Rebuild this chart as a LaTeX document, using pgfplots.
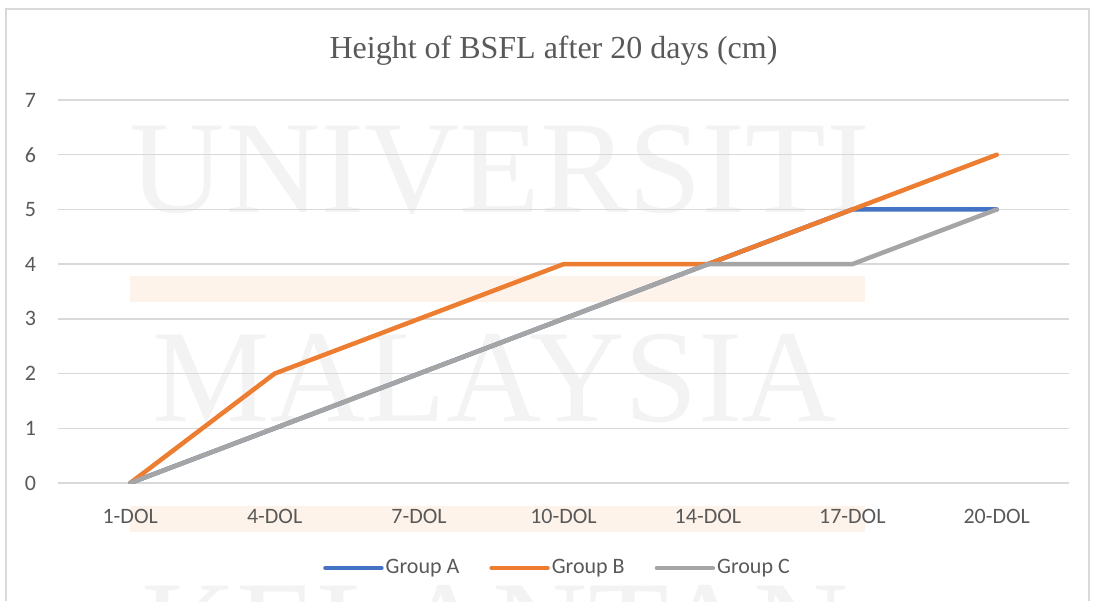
\documentclass[border=0pt]{standalone}
\usepackage{pgfplots}
\pgfplotsset{compat=1.18}
\usepackage{fontspec}
\setmainfont{Carlito}
\newfontfamily\titlefont{Liberation Serif}
\definecolor{cA}{HTML}{4472C4}
\definecolor{cB}{HTML}{ED7D31}
\definecolor{cC}{HTML}{A5A5A5}
\definecolor{gridc}{HTML}{D9D9D9}
\definecolor{txt}{HTML}{595959}
\definecolor{wm}{HTML}{F3F3F3}
\definecolor{wmo}{HTML}{FEF3EA}
\begin{document}
\begin{tikzpicture}[x=0.5pt,y=0.5pt]
\begin{scope}[shift={(-58,-118)}]
% watermark
\fill[wmo] (130,601-302) rectangle (865,601-276);
\fill[wmo] (130,601-532) rectangle (865,601-506);
\node[text=wm, font=\titlefont\fontsize{66}{66}\selectfont] at (500,601-170) {UNIVERSITI};
\node[text=wm, font=\titlefont\fontsize{66}{66}\selectfont] at (495,601-378) {MALAYSIA};
\node[text=wm, font=\titlefont\fontsize{66}{66}\selectfont, anchor=north] at (495,601-578) {KELANTAN};
% frame
\draw[gridc, line width=1pt] (6,0) -- (6,592) -- (1089,592) -- (1089,0);
\end{scope}
\begin{axis}[
  at={(0,0)}, anchor=south west,
  scale only axis, width=505.5pt, height=191.5pt,
  xmin=-0.5, xmax=6.5, ymin=0, ymax=7,
  xtick={0,...,6},
  xticklabels={1-DOL,4-DOL,7-DOL,10-DOL,14-DOL,17-DOL,20-DOL},
  ytick={0,...,7},
  axis line style={draw=none},
  tick style={draw=none},
  ymajorgrids, xmajorgrids=false, grid style={gridc, line width=0.75pt},
  tick label style={font=\fontsize{11}{13}\selectfont, text=txt},
  /pgf/number format/assume math mode=true,
  yticklabel style={xshift=-7.5pt},
  xticklabel style={yshift=-9.5pt},
  title={\titlefont\fontsize{16}{19}\selectfont\color{txt}Height of BSFL after 20 days (cm)},
  title style={at={(0.5,1)}, anchor=center, yshift=18.5pt, xshift=-5pt},
  legend style={at={(0.5,0)}, anchor=center, yshift=-42.5pt, xshift=-3pt, draw=none, fill=none,
    font=\fontsize{11}{13}\selectfont, text=txt, legend columns=3,
    nodes={inner xsep=1pt},
    /tikz/every even column/.append style={column sep=14pt}},
  legend cell align=left,
  legend image code/.code={\draw[#1, line width=2.25pt, line cap=round] (0pt,0pt) -- (28pt,0pt);},
  every axis plot/.append style={line width=2.25pt, line cap=round, line join=round, mark=none},
]
\addplot[cA] coordinates {(0,0) (1,1) (2,2) (3,3) (4,4) (5,5) (6,5)};
\addlegendentry{Group A}
\addplot[cB] coordinates {(0,0) (1,2) (2,3) (3,4) (4,4) (5,5) (6,6)};
\addlegendentry{Group B}
\addplot[cC] coordinates {(0,0) (1,1) (2,2) (3,3) (4,4) (5,4) (6,5)};
\addlegendentry{Group C}
\end{axis}
\pgfresetboundingbox
\path[use as bounding box] (-58,-118) rectangle (1036,483);
\end{tikzpicture}
\end{document}
